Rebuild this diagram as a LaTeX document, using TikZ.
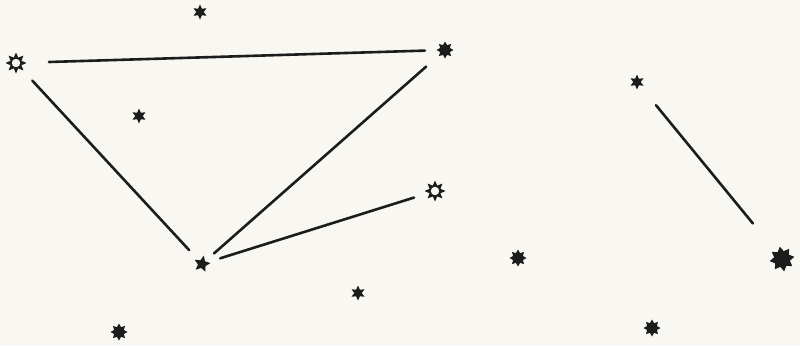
\documentclass[tikz,border=0pt]{standalone}
\usepackage{tikz}
\usetikzlibrary{shapes.geometric}
\definecolor{paper}{HTML}{F8F7F2}
\definecolor{ink}{HTML}{1C1C1C}
\begin{document}
\begin{tikzpicture}[x=1pt, y=-1pt, line cap=round]
  \tikzstyle{smallstar}=[star, star points=6, star point ratio=2.0, fill=ink, minimum size=15pt, inner sep=0pt]
  \tikzstyle{fivestar}=[star, star points=5, star point ratio=2.1, fill=ink, minimum size=17pt, inner sep=0pt, rotate=-12]
  \tikzstyle{blackstar}=[star, star points=8, star point ratio=1.6, fill=ink, minimum size=17pt, inner sep=0pt]
  \tikzstyle{bigstar}=[blackstar, star point ratio=1.55, minimum size=25pt, rotate=10]
  \tikzstyle{openstar}=[star, star points=8, star point ratio=1.8, fill=ink, minimum size=21pt, inner sep=0pt,
    path picture={\fill[paper] (path picture bounding box.center) circle (4.2pt);}]
  \tikzstyle{link}=[draw=ink, line width=2.6pt]
  \fill[paper] (0,0) rectangle (800,346);
  \useasboundingbox (0,0) rectangle (800,346);
  % stars
  \node[smallstar] (top) at (200,12) {};
  \node[openstar] (ringw) at (16,63) {};
  \node[blackstar] (apex) at (445,50) {};
  \node[smallstar] (inner) at (139,116) {};
  \node[openstar] (ringe) at (435,191) {};
  \node[fivestar] (base) at (202,264) {};
  \node[blackstar] (mid) at (518,258) {};
  \node[smallstar] (low) at (358,293) {};
  \node[blackstar] (corner) at (119,332) {};
  \node[smallstar] (east) at (637,82) {};
  \node[bigstar] (far) at (782,259) {};
  \node[blackstar] (south) at (652,328) {};
  % connectors
  \draw[link, shorten <=33pt, shorten >=20pt] (ringw.center) -- (apex.center);
  \draw[link, shorten <=24pt, shorten >=19pt] (ringw.center) -- (base.center);
  \draw[link, shorten <=25pt, shorten >=16pt] (apex.center) -- (base.center);
  \draw[link, shorten <=22pt, shorten >=19pt] (ringe.center) -- (base.center);
  \draw[link, shorten <=30pt, shorten >=46pt] (east.center) -- (far.center);
\end{tikzpicture}
\end{document}
